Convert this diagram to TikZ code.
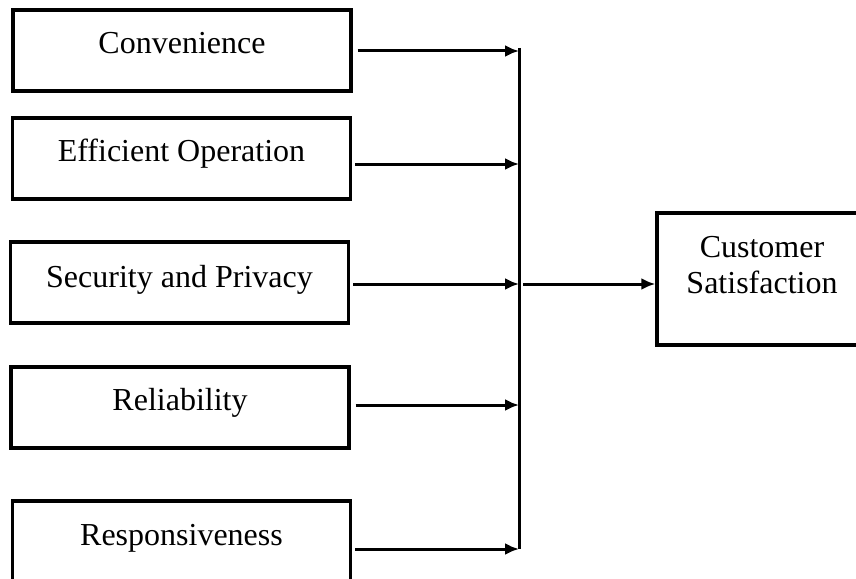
\documentclass[tikz,border=0pt]{standalone}
\usepackage{fontspec}
\setmainfont{Liberation Serif}
\usetikzlibrary{arrows.meta}

\begin{document}
\begin{tikzpicture}[x=1pt, y=-1pt,
    every node/.style={font=\fontsize{32}{36}\selectfont},
    factor/.style={draw, rectangle, line width=3.4pt, minimum width=338pt, inner sep=0pt, text height=43pt, text depth=38pt, anchor=base},
    link/.style={-{Latex[length=14pt,width=12pt]}, line width=3pt}]
    \useasboundingbox (0,0) rectangle (856,578);

    % Factor 1: Convenience
    \node[factor] (conv) at (182,53) {Convenience};

    % Factor 2: Efficient Operation
    \node[factor] (effic) at (181.5,161) {Efficient Operation};

    % Factor 3: Security and Privacy
    \node[factor, text height=45pt, text depth=36pt] (secur) at (179.5,287) {Security and Privacy};

    % Factor 4: Reliability
    \node[factor] (relia) at (180,410) {Reliability};

    % Factor 5: Responsiveness
    \node[factor, text height=44pt] (respo) at (181.5,545) {Responsiveness};

    % Outcome: Customer Satisfaction
    \node[draw, rectangle, line width=3.4pt, minimum width=210pt, inner sep=0pt, align=center, text height=80pt, text depth=52pt, anchor=base] (cust) at (762,293) {Customer\\Satisfaction};

    % Bus
    \coordinate (bustop) at (519,48);
    \coordinate (j1) at (519,51);
    \coordinate (j2) at (519,164);
    \coordinate (j3) at (519,284);
    \coordinate (j4) at (519,405);
    \coordinate (j5) at (519,549);
    \draw[line width=3pt] (bustop) -- (j5);

    % Arrows
    \draw[link, shorten <=5pt] (conv.east |- j1) -- (j1);
    \draw[link, shorten <=3pt] (effic.east |- j2) -- (j2);
    \draw[link, shorten <=3pt] (secur.east |- j3) -- (j3);
    \draw[link, shorten <=5pt] (relia.east |- j4) -- (j4);
    \draw[link, shorten <=3pt] (respo.east |- j5) -- (j5);
    \draw[link, shorten <=4pt] (j3) -- (cust.west |- j3);
\end{tikzpicture}
\end{document}
